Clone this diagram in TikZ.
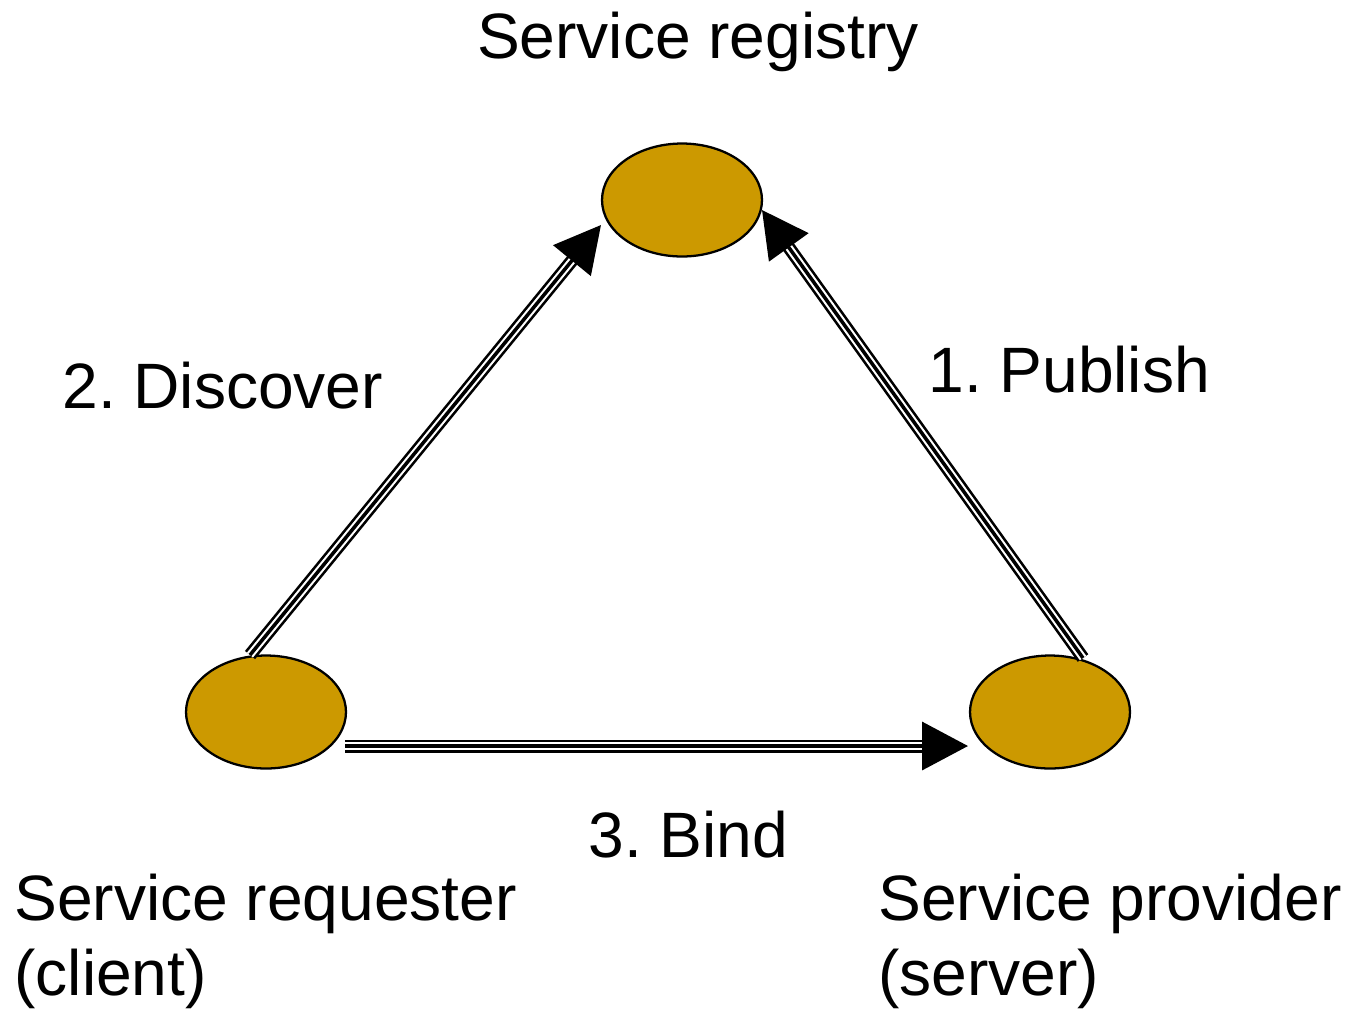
\documentclass[tikz,border=0pt]{standalone}
\usepackage{fontspec}
\setmainfont{Liberation Sans}
\usepackage{tikz}
\usetikzlibrary{arrows.meta,shapes.geometric}
\definecolor{gold}{RGB}{204,153,0}
\tikzset{
	role/.style={ellipse, draw=black, line width=1.3pt, fill=gold, minimum width=3.2cm, minimum height=2.26cm, inner sep=0pt},
	lbl/.style={anchor=base west, inner sep=0pt, align=left, font=\fontsize{36.5}{42.7}\selectfont\frenchspacing},
}
\newcommand{\flow}[2]{%
	\draw[line width=7.4pt, black, shorten >=0.9cm] (#1) -- (#2);
	\draw[line width=4.4pt, white, shorten >=0.9cm] (#1) -- (#2);
	\draw[line width=2pt, black, -{Triangle[length=0.92cm, width=0.96cm]}] (#1) -- (#2);}

\begin{document}
\begin{tikzpicture}[x=0.02cm, y=-0.02cm]
		%%%%% START %%%%%
		
		\useasboundingbox (0, 0) rectangle (1348, 1009);
		
		\node[role] (reg) at (682, 200) {};
		\node[role] (req) at (266, 712) {};
		\node[role] (prov) at (1050, 712) {};
		
		\node[lbl, anchor=base] (regtxt) at (698, 58) {Service registry};
		\node[lbl] (reqtxt) at (14, 995) {Service requester\\(client)};
		\node[lbl] (provtxt) at (878, 995) {Service provider\\(server)};
		
		\node[lbl] (disctxt) at (62, 408) {2. Discover};
		\node[lbl] (pubtxt) at (928, 392) {1. Publish};
		\node[lbl] (bindtxt) at (588, 857) {3. Bind};
		
		\coordinate (disc-s) at (250, 655);
		\coordinate (disc-e) at (601, 225);
		\coordinate (pub-s) at (1083, 658);
		\coordinate (pub-e) at (762, 210);
		\coordinate (bind-s) at (345, 746);
		\coordinate (bind-e) at (968, 746);
		
		\flow{disc-s}{disc-e}
		\flow{pub-s}{pub-e}
		\flow{bind-s}{bind-e}
		
		%%%%% END %%%%%
	\end{tikzpicture}
\end{document}
